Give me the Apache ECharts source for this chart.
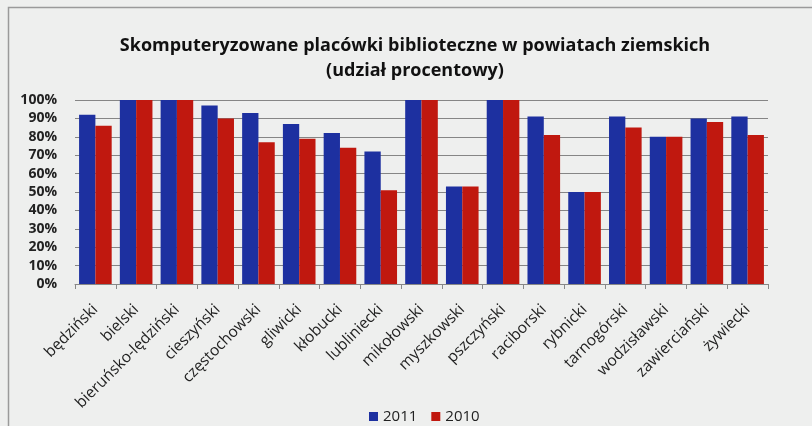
<!DOCTYPE html>
<html><head><meta charset="utf-8">
<script src="https://cdn.jsdelivr.net/npm/echarts@6/dist/echarts.min.js"></script>
<style>html,body{margin:0;padding:0;background:#eceeee;}#c{width:812px;height:426px;}</style>
</head><body><div id="c"></div>
<script>
var categories = ['będziński','bielski','bieruńsko-lędziński','cieszyński','częstochowski','gliwicki','kłobucki','lubliniecki','mikołowski','myszkowski','pszczyński','raciborski','rybnicki','tarnogórski','wodzisławski','zawierciański','żywiecki'];
var values2011 = [92, 100, 100, 97, 93, 87, 82, 72, 100, 53, 100, 91, 50, 91, 80, 90, 91];
var values2010 = [86, 100, 100, 90, 77, 79, 74, 51, 100, 53, 100, 81, 50, 85, 80, 88, 81];
var yTicks = [0, 10, 20, 30, 40, 50, 60, 70, 80, 90, 100];

var chart = echarts.init(document.getElementById('c'));
chart.setOption({
  backgroundColor: '#eeefee',
  textStyle: { fontFamily: 'Open Sans' },
  graphic: [{
    type: 'rect', left: 6, top: 5, silent: true, z: -1,
    shape: { width: 900, height: 500 },
    style: { fill: 'none', stroke: '#9a9a9a', lineWidth: 1.5 }
  }],
  title: {
    text: 'Skomputeryzowane placówki biblioteczne w powiatach ziemskich\n(udział procentowy)',
    left: 410, textAlign: 'center', top: 28,
    textStyle: { fontSize: 18, fontWeight: 'bold', color: '#111', lineHeight: 25, fontFamily: 'Open Sans' }
  },
  legend: {
    top: 404, left: 364, itemWidth: 9, itemHeight: 9, itemGap: 14,
    icon: 'rect',
    textStyle: { fontSize: 15, color: '#222', fontFamily: 'Open Sans' },
    data: ['2011', '2010']
  },
  grid: { left: 75, right: 44, top: 100, bottom: 142 },
  xAxis: {
    type: 'category', data: categories,
    axisLine: { lineStyle: { color: '#888' } },
    axisTick: { show: true, lineStyle: { color: '#888' } },
    axisLabel: { rotate: 45, interval: 0, fontSize: 15.5, color: '#222', margin: 23, fontFamily: 'Open Sans' }
  },
  yAxis: {
    type: 'value', min: 0, max: 100, interval: 10,
    axisLabel: { formatter: function (v) { return yTicks.indexOf(v) >= 0 ? v + '%' : ''; }, fontSize: 14, color: '#222', fontWeight: 'bold', margin: 18 },
    axisLine: { show: false }, axisTick: { show: false },
    splitLine: { lineStyle: { color: '#858585', width: 1 } }
  },
  series: [
    { name: '2011', type: 'bar', data: values2011, itemStyle: { color: '#1d30a0' }, barGap: '0%', barCategoryGap: '20%' },
    { name: '2010', type: 'bar', data: values2010, itemStyle: { color: '#c0180f' }, barGap: '0%', barCategoryGap: '20%' }
  ]
});
</script></body></html>
